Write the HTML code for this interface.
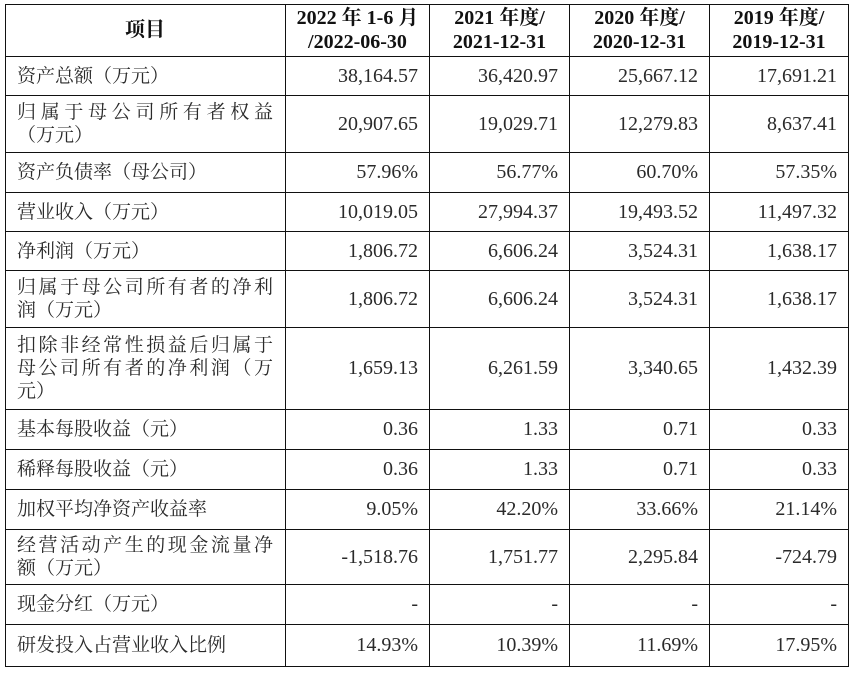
<!DOCTYPE html>
<html><head><meta charset="utf-8"><style>
body{margin:0;width:854px;height:673px;background:#fff;position:relative;overflow:hidden;font-family:"Liberation Serif","Noto Serif CJK SC",serif;color:#2a2a2a;}
.c{position:absolute;box-sizing:border-box;border-right:1.5px solid #111;border-bottom:1.5px solid #111;display:flex;align-items:center;font-size:19px;line-height:23px;}
.n{justify-content:flex-end;padding-right:11px;font-size:20px;}
.l{padding-left:12px;padding-right:12px;}
.l>div{width:100%;}
.j{text-align:justify;text-align-last:justify;}
.h{justify-content:center;text-align:center;font-weight:bold;font-size:20px;line-height:24px;color:#111;}
#t{position:absolute;left:5px;top:4px;width:844px;height:663px;border-left:1.5px solid #111;border-top:1.5px solid #111;box-sizing:border-box;}
</style></head><body>
<div id="t"></div>
<div id="g"></div>
<script>
const xs=[5,286,430,570,710,849];
const ys=[4,57,96,153,193,232,271,328,410,450,490,530,585,625,667];
const H=[["项目","2022 年 1-6 月<br>/2022-06-30","2021 年度/<br>2021-12-31","2020 年度/<br>2020-12-31","2019 年度/<br>2019-12-31"]];
const R=[
[["资产总额（万元）"],"38,164.57","36,420.97","25,667.12","17,691.21"],
[["归属于母公司所有者权益","（万元）"],"20,907.65","19,029.71","12,279.83","8,637.41"],
[["资产负债率（母公司）"],"57.96%","56.77%","60.70%","57.35%"],
[["营业收入（万元）"],"10,019.05","27,994.37","19,493.52","11,497.32"],
[["净利润（万元）"],"1,806.72","6,606.24","3,524.31","1,638.17"],
[["归属于母公司所有者的净利","润（万元）"],"1,806.72","6,606.24","3,524.31","1,638.17"],
[["扣除非经常性损益后归属于","母公司所有者的净利润（万","元）"],"1,659.13","6,261.59","3,340.65","1,432.39"],
[["基本每股收益（元）"],"0.36","1.33","0.71","0.33"],
[["稀释每股收益（元）"],"0.36","1.33","0.71","0.33"],
[["加权平均净资产收益率"],"9.05%","42.20%","33.66%","21.14%"],
[["经营活动产生的现金流量净","额（万元）"],"-1,518.76","1,751.77","2,295.84","-724.79"],
[["现金分红（万元）"],"-","-","-","-"],
[["研发投入占营业收入比例"],"14.93%","10.39%","11.69%","17.95%"]];
const all=H.concat(R);let h="";
all.forEach((r,i)=>{r.forEach((v,j)=>{
let cls=i==0?"h":(j==0?"l":"n");
let inner=v;
if(i>0&&j==0){inner=v.map((s,k)=>`<div class="${k<v.length-1?'j':''}">${s}</div>`).join("");}
h+=`<div class="c ${cls}" style="left:${xs[j]}px;top:${ys[i]}px;width:${xs[j+1]-xs[j]}px;height:${ys[i+1]-ys[i]}px"><div>${inner}</div></div>`;});});
document.getElementById("g").innerHTML=h;
</script>
</body></html>
